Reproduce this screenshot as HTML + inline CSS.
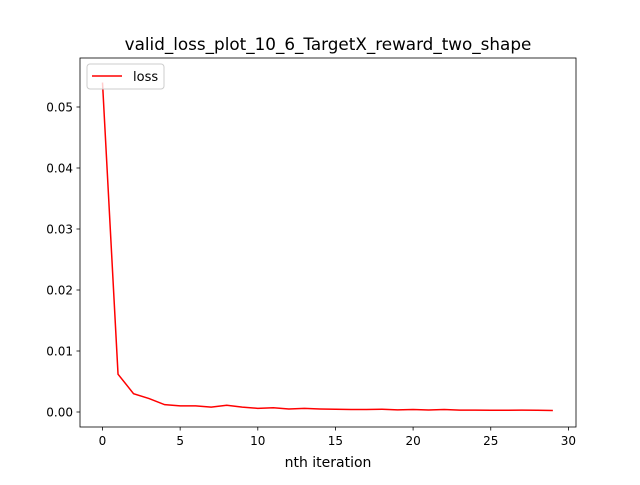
<!DOCTYPE html>
<html><head><meta charset="utf-8"><style>
body{margin:0;background:#fff}
svg text{font-family:"DejaVu Sans","Liberation Sans",sans-serif}
</style></head><body>
<svg id="c" width="640" height="480" xmlns="http://www.w3.org/2000/svg">
<rect width="640" height="480" fill="#fff"/>
<text x="328" y="50" font-size="16.8" text-anchor="middle">valid_loss_plot_10_6_TargetX_reward_two_shape</text>
<g id="ticks"></g>
<polyline id="line" fill="none" stroke="red" stroke-width="1.5"/>
<rect x="80" y="58" width="496" height="369" fill="none" stroke="#000" stroke-width="0.8"/>
<text x="328" y="467" font-size="14" text-anchor="middle">nth iteration</text>
<g>
<rect x="87" y="64" width="77" height="25" rx="3" fill="#fff" fill-opacity="0.8" stroke="#ccc"/>
<line x1="92" y1="76" x2="122" y2="76" stroke="red" stroke-width="1.5"/>
<text x="133" y="81" font-size="13">loss</text>
</g>
</svg>
<script>
const xTicks=[0,5,10,15,20,25,30];
const yTicks=[0,0.01,0.02,0.03,0.04,0.05];
const yTickLabels=["0.00","0.01","0.02","0.03","0.04","0.05"];
const iterations=[0,1,2,3,4,5,6,7,8,9,10,11,12,13,14,15,16,17,18,19,20,21,22,23,24,25,26,27,28,29];
const lossValues=[0.054,0.0062,0.003,0.0022,0.0012,0.001,0.001,0.0008,0.0011,0.0008,0.0006,0.0007,0.0005,0.0006,0.0005,0.00045,0.0004,0.0004,0.00045,0.00035,0.0004,0.00033,0.0004,0.0003,0.0003,0.00028,0.00028,0.0003,0.00028,0.00025];
const X=v=>102.5+v*15.53;
const Y=v=>412-v*6100;
const NS="http://www.w3.org/2000/svg";
const g=document.getElementById('ticks');
function mk(t,a){const e=document.createElementNS(NS,t);for(const k in a)e.setAttribute(k,a[k]);g.appendChild(e);return e;}
xTicks.forEach(v=>{
 const l=mk('line',{x1:X(v),x2:X(v),y1:427,y2:430.5,stroke:'#000','stroke-width':0.8});
 
 
 const t=mk('text',{x:X(v),y:445,'font-size':12,'text-anchor':'middle'});t.textContent=v;
 
 
});
yTicks.forEach((v,i)=>{
 const l=mk('line',{x1:76.5,x2:80,y1:Y(v),y2:Y(v),stroke:'#000','stroke-width':0.8});
 
 
 const t=mk('text',{x:73,y:Y(v)+4.5,'font-size':12,'text-anchor':'end'});t.textContent=yTickLabels[i];
 
 
});
document.getElementById('line').setAttribute('points',iterations.map((x,i)=>X(x)+','+Y(lossValues[i])).join(' '));
</script>
</body></html>
